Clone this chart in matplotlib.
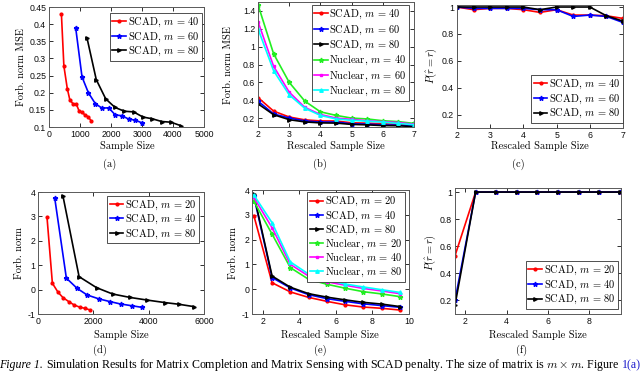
import numpy as np
import matplotlib
matplotlib.use("Agg")
import matplotlib.pyplot as plt
from matplotlib.font_manager import FontProperties
from matplotlib.ticker import FuncFormatter

plt.rcParams['mathtext.fontset'] = 'cm'
plt.rcParams['axes.unicode_minus'] = False

# ---- datos (a) / (b): matrix completion, SCAD ----
size_m40 = [400, 480, 590, 670, 770, 880, 970, 1070, 1160, 1260, 1360]
mse_m40 = [0.43, 0.278, 0.212, 0.18, 0.168, 0.167, 0.147, 0.143, 0.135, 0.13, 0.118]
size_m60 = [860, 1065, 1270, 1495, 1710, 1925, 2140, 2355, 2570, 2785, 3000]
mse_m60 = [0.39, 0.246, 0.2, 0.168, 0.155, 0.156, 0.135, 0.133, 0.123, 0.12, 0.112]
size_m80 = [1225, 1525, 1830, 2130, 2430, 2730, 3030, 3330, 3635, 3935, 4245]
mse_m80 = [0.36, 0.238, 0.182, 0.157, 0.146, 0.144, 0.129, 0.124, 0.116, 0.114, 0.104]

rescaled_top = [2, 2.5, 3, 3.5, 4, 4.5, 5, 5.5, 6, 6.5, 7]
nuc_m40 = [1.47, 0.92, 0.6, 0.39, 0.27, 0.23, 0.2, 0.19, 0.17, 0.16, 0.14]
nuc_m60 = [1.28, 0.78, 0.49, 0.32, 0.24, 0.2, 0.185, 0.17, 0.16, 0.15, 0.13]
nuc_m80 = [1.2, 0.73, 0.46, 0.31, 0.23, 0.19, 0.175, 0.165, 0.155, 0.14, 0.125]

# (c)
prob_m40 = [1.0, 0.98, 0.99, 0.99, 0.98, 0.96, 0.98, 0.94, 0.94, 0.935, 0.915]
prob_m60 = [1.0, 0.99, 0.99, 0.99, 0.99, 0.98, 0.98, 0.93, 0.94, 0.93, 0.885]
prob_m80 = [1.0, 1.0, 1.0, 1.0, 1.0, 0.98, 1.0, 1.0, 1.0, 0.935, 0.895]

# ---- datos (d) / (e) / (f): matrix sensing ----
size_s20 = [325, 520, 725, 905, 1110, 1305, 1510, 1705, 1895]
norm_s20 = [2.97, 0.26, -0.11, -0.33, -0.49, -0.63, -0.72, -0.77, -0.84]
size_s40 = [605, 1025, 1415, 1775, 2200, 2595, 2985, 3380, 3770]
norm_s40 = [3.75, 0.47, 0.05, -0.22, -0.38, -0.49, -0.59, -0.66, -0.73]
size_s80 = [905, 1485, 2115, 2695, 3320, 3950, 4575, 5085, 5650]
norm_s80 = [3.82, 0.53, 0.08, -0.18, -0.32, -0.43, -0.53, -0.6, -0.7]

rescaled_bot = [1.5, 2.5, 3.5, 4.5, 5.5, 6.5, 7.5, 8.5, 9.5]
nuc_s20 = [3.55, 2.22, 0.87, 0.4, 0.2, 0.04, -0.1, -0.19, -0.3]
nuc_s40 = [3.7, 2.48, 1.0, 0.53, 0.3, 0.16, 0.03, -0.07, -0.18]
nuc_s80 = [3.8, 2.68, 1.1, 0.61, 0.37, 0.21, 0.09, -0.02, -0.13]

prob_s20 = [0.53, 1, 1, 1, 1, 1, 1, 1, 1]
prob_s40 = [0.2, 1, 1, 1, 1, 1, 1, 1, 1]
prob_s80 = [0.165, 1, 1, 1, 1, 1, 1, 1, 1]

W, H = 640, 371
fig = plt.figure(figsize=(W / 100, H / 100), dpi=100)

cm_font = 'cmr10'
lab_size = 7.5
tick_font = 'Liberation Sans'


def caja(l, t, r, b):
    # ejes en pixeles (izq, arriba, der, abajo)
    ax = fig.add_axes([l / W, 1 - b / H, (r - l) / W, (b - t) / H])
    ax.tick_params(direction='in', top=True, right=True, length=3, width=0.6,
                   labelsize=6.3, pad=2, colors='0.05')
    for lab in ax.get_xticklabels() + ax.get_yticklabels():
        lab.set_family(tick_font)
    for s in ax.spines.values():
        s.set_linewidth(0.7)
        s.set_color('0.35')
    ax.xaxis.set_major_formatter(FuncFormatter(lambda v, p: '%g' % v))
    ax.yaxis.set_major_formatter(FuncFormatter(lambda v, p: '%g' % v))
    return ax


def texto(x, y, s, rot=0, size=lab_size):
    fig.text(x / W, 1 - y / H, s, ha='center', va='center', rotation=rot,
             fontsize=size, family=cm_font)


def leyenda(ax, loc, anchor, sp=0.12):
    lg = ax.legend(loc=loc, bbox_to_anchor=anchor, prop=FontProperties(family=cm_font, size=7.5),
                   handlelength=1.3, handletextpad=0.15, labelspacing=sp,
                   borderpad=0.25, borderaxespad=0, fancybox=False, framealpha=1)
    lg.get_frame().set_edgecolor('0.2')
    lg.get_frame().set_linewidth(0.6)


lw = 1.2
red = dict(color='#ff0000', marker='.', ms=4, lw=lw)
blue = dict(color='#0000ff', marker='*', ms=3.5, lw=lw)
black = dict(color='black', marker='>', ms=2.5, lw=lw)
green = dict(color='#22ee22', marker='*', ms=3.5, lw=lw)
mag = dict(color='#ff00ff', marker='s', ms=2, lw=lw)
cyan = dict(color='#00ffff', marker='^', ms=2.5, lw=lw)

# (a)
ax = caja(49, 7, 204, 127)
ax.plot(size_m40, mse_m40, label='SCAD, $m$ = 40', **red)
ax.plot(size_m60, mse_m60, label='SCAD, $m$ = 60', **blue)
ax.plot(size_m80, mse_m80, label='SCAD, $m$ = 80', **black)
ax.set_xlim(0, 5000)
ax.set_ylim(0.1, 0.45)
ax.set_xticks([0, 1000, 2000, 3000, 4000, 5000])
ax.set_yticks([0.1, 0.15, 0.2, 0.25, 0.3, 0.35, 0.4, 0.45])
leyenda(ax, 'upper right', (0.985, 0.95))
texto(127, 146, 'Sample Size')
texto(21, 67, 'Forb. norm MSE', rot=90)
texto(110, 164, '(a)')

# (b)
ax = caja(258, 2, 414, 127)
ax.plot(rescaled_top, mse_m40, label='SCAD, $m$ = 40', **red)
ax.plot(rescaled_top, mse_m60, label='SCAD, $m$ = 60', **blue)
ax.plot(rescaled_top, mse_m80, label='SCAD, $m$ = 80', **black)
ax.plot(rescaled_top, nuc_m40, label='Nuclear, $m$ = 40', **green)
ax.plot(rescaled_top, nuc_m60, label='Nuclear, $m$ = 60', **mag)
ax.plot(rescaled_top, nuc_m80, label='Nuclear, $m$ = 80', **cyan)
ax.set_xlim(2, 7)
ax.set_ylim(0.1, 1.5)
ax.set_xticks([2, 3, 4, 5, 6, 7])
ax.set_yticks([0.2, 0.4, 0.6, 0.8, 1, 1.2, 1.4])
leyenda(ax, 'upper right', (0.97, 0.975), sp=0.2)
texto(336, 146, 'Rescaled Sample Size')
texto(228, 65, 'Forb. norm MSE', rot=90)
texto(320, 164, '(b)')

# (c)
ax = caja(457, 5, 623, 128)
ax.plot(rescaled_top, prob_m40, label='SCAD, $m$ = 40', **red)
ax.plot(rescaled_top, prob_m60, label='SCAD, $m$ = 60', **blue)
ax.plot(rescaled_top, prob_m80, label='SCAD, $m$ = 80', **black)
ax.set_xlim(2, 7)
ax.set_ylim(0.1, 1.015)
ax.set_xticks([2, 3, 4, 5, 6, 7])
ax.set_yticks([0.2, 0.4, 0.6, 0.8, 1])
leyenda(ax, 'lower right', (1.0, 0.04))
texto(540, 146, 'Rescaled Sample Size')
fig.text(431 / W, 1 - 66 / H, r'$P(\hat{r}=r)$', ha='center', va='center', rotation=90, fontsize=lab_size)
texto(518, 164, '(c)')

# (d)
ax = caja(38, 192, 204, 314)
ax.plot(size_s20, norm_s20, label='SCAD, $m$ = 20', **red)
ax.plot(size_s40, norm_s40, label='SCAD, $m$ = 40', **blue)
ax.plot(size_s80, norm_s80, label='SCAD, $m$ = 80', **black)
ax.set_xlim(0, 6000)
ax.set_ylim(-1, 4)
ax.set_xticks([0, 2000, 4000, 6000])
ax.set_yticks([-1, 0, 1, 2, 3, 4])
leyenda(ax, 'upper right', (0.97, 0.97))
texto(121, 335, 'Sample Size')
texto(19, 253, 'Forb. norm', rot=90)
texto(100, 350, '(d)')

# (e)
ax = caja(252, 190, 409, 314)
ax.plot(rescaled_bot, norm_s20, label='SCAD, $m$ = 20', **red)
ax.plot(rescaled_bot, norm_s40, label='SCAD, $m$ = 40', **blue)
ax.plot(rescaled_bot, norm_s80, label='SCAD, $m$ = 80', **black)
ax.plot(rescaled_bot, nuc_s20, label='Nuclear, $m$ = 20', **green)
ax.plot(rescaled_bot, nuc_s40, label='Nuclear, $m$ = 40', **mag)
ax.plot(rescaled_bot, nuc_s80, label='Nuclear, $m$ = 80', **cyan)
ax.set_xlim(1.4, 10)
ax.set_ylim(-1, 4)
ax.set_xticks([2, 4, 6, 8, 10])
ax.set_yticks([-1, 0, 1, 2, 3, 4])
leyenda(ax, 'upper right', (0.975, 0.98), sp=0.08)
texto(330, 335, 'Rescaled Sample Size')
texto(233, 253, 'Forb. norm', rot=90)
texto(320, 350, '(e)')

# (f)
ax = caja(455, 188, 621, 314)
ax.plot(rescaled_bot, prob_s20, label='SCAD, $m$ = 20', **red)
ax.plot(rescaled_bot, prob_s40, label='SCAD, $m$ = 40', **blue)
ax.plot(rescaled_bot, prob_s80, label='SCAD, $m$ = 80', **black)
ax.set_xlim(1.5, 9.55)
ax.set_ylim(0.1, 1.03)
ax.set_xticks([2, 4, 6, 8])
ax.set_yticks([0.2, 0.4, 0.6, 0.8, 1])
leyenda(ax, 'lower right', (0.98, 0.04))
texto(538, 335, 'Rescaled Sample Size')
fig.text(430 / W, 1 - 253 / H, r'$P(\hat{r}=r)$', ha='center', va='center', rotation=90, fontsize=lab_size)
texto(522, 350, '(f)')

# caption (se corta a la izquierda y derecha como en la figura original)
rend = fig.canvas.get_renderer()
cy = 1 - 365 / H
cap_size = 8.6
t3 = fig.text(641 / W, cy, '1(a)', ha='right', va='center', fontsize=cap_size,
              family='Liberation Serif', color='#1a1acc')
x3 = t3.get_window_extent(rend).x0
t2 = fig.text((x3 - 3) / W, cy,
              r'Simulation Results for Matrix Completion and Matrix Sensing with SCAD penalty. '
              r'The size of matrix is $m \times m$. Figure',
              ha='right', va='center', fontsize=cap_size, family='Liberation Serif')
x2 = t2.get_window_extent(rend).x0
fig.text((x2 - 3) / W, cy, 'Figure 1.', ha='right', va='center', fontsize=cap_size,
         family='Liberation Serif', style='italic')

fig.savefig('out.png', dpi=100)
